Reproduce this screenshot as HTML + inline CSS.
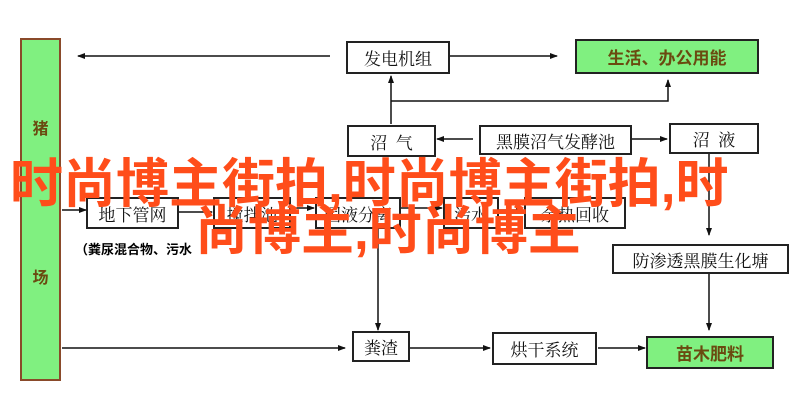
<!DOCTYPE html>
<html><head><meta charset="utf-8"><style>
body{margin:0;width:797px;height:405px;background:#fff;position:relative;overflow:hidden;font-family:"Liberation Serif","Noto Serif CJK SC",serif}
.b{position:absolute;border:2px solid #222;background:#fff;box-sizing:border-box;display:flex;align-items:center;justify-content:center;font-size:17px;color:#111;white-space:nowrap}
.g{background:#80f080;color:#6a4a10;font-family:"Liberation Sans","Noto Sans CJK SC",sans-serif;font-weight:bold}
.wm{position:absolute;color:#ff4d1a;font-family:"Liberation Sans","Noto Sans CJK SC",sans-serif;font-weight:bold;font-size:53px;white-space:nowrap;line-height:1}
</style></head><body>
<svg width="797" height="405" style="position:absolute;left:0;top:0">
<defs><marker id="a" markerWidth="8" markerHeight="8" refX="7" refY="4" orient="auto" markerUnits="userSpaceOnUse"><path d="M0,1 L8,4 L0,7z" fill="#111"/></marker></defs>
<g stroke="#111" stroke-width="1.5" fill="none">
<line x1="330" y1="56" x2="78" y2="56" marker-end="url(#a)"/>
<line x1="449" y1="56" x2="557" y2="56" marker-end="url(#a)"/>
<line x1="391" y1="124" x2="391" y2="76" marker-end="url(#a)"/>
<polyline points="391,101 668,101 668,80" marker-end="url(#a)"/>
<line x1="473" y1="139" x2="437" y2="139" marker-end="url(#a)"/>
<line x1="631" y1="139" x2="667" y2="139" marker-end="url(#a)"/>
<line x1="709" y1="154" x2="709" y2="235" marker-end="url(#a)"/>
<line x1="709" y1="273" x2="709" y2="330" marker-end="url(#a)"/>
<line x1="62" y1="210" x2="86" y2="210" marker-end="url(#a)"/>
<line x1="178" y1="212" x2="212" y2="212" marker-end="url(#a)"/>
<line x1="290" y1="208" x2="314" y2="208" marker-end="url(#a)"/>
<line x1="400" y1="208" x2="442" y2="208" marker-end="url(#a)"/>
<line x1="498" y1="210" x2="523" y2="210" marker-end="url(#a)"/>
<line x1="378" y1="228" x2="378" y2="330" marker-end="url(#a)"/>
<line x1="62" y1="348" x2="345" y2="348" marker-end="url(#a)"/>
<line x1="408" y1="348" x2="490" y2="348" marker-end="url(#a)"/>
<line x1="598" y1="348" x2="645" y2="348" marker-end="url(#a)"/>
</g></svg>
<div class="b g" style="left:20px;top:38px;width:41px;height:343px;border-color:#8a4a2a;flex-direction:column;justify-content:flex-start;font-size:16px"><span style="margin-top:75px">猪</span><span style="margin-top:125px">场</span></div>
<div class="b" style="left:346px;top:41px;width:104px;height:33px">发电机组</div>
<div class="b g" style="left:575px;top:39px;width:184px;height:35px">生活、办公用能</div>
<div class="b" style="left:347px;top:125px;width:89px;height:32px">沼&nbsp;&nbsp;气</div>
<div class="b" style="left:479px;top:125px;width:153px;height:30px">黑膜沼气发酵池</div>
<div class="b" style="left:669px;top:123px;width:90px;height:31px">沼&nbsp;&nbsp;液</div>
<div class="b" style="left:86px;top:197px;width:93px;height:32px">地下管网</div>
<div class="b" style="left:213px;top:197px;width:78px;height:32px">搅拌池</div>
<div class="b" style="left:315px;top:197px;width:86px;height:32px">固液分离</div>
<div class="b" style="left:443px;top:197px;width:56px;height:32px">污水</div>
<div class="b" style="left:524px;top:197px;width:102px;height:32px">余热回收</div>
<div style="position:absolute;left:75px;top:239px;font-size:13px;font-weight:bold;font-family:'Liberation Sans','Noto Sans CJK SC',sans-serif">（粪尿混合物、污水</div>
<div class="b" style="left:612px;top:244px;width:177px;height:30px">防渗透黑膜生化塘</div>
<div class="b" style="left:352px;top:331px;width:58px;height:31px">粪渣</div>
<div class="b" style="left:492px;top:332px;width:105px;height:33px">烘干系统</div>
<div class="b g" style="left:646px;top:336px;width:128px;height:33px">苗木肥料</div>
<div class="wm" style="left:10px;top:158px">时尚博主街拍,时尚博主街拍,时</div>
<div class="wm" style="left:195px;top:205px">尚博主,时尚博主</div>
</body></html>
